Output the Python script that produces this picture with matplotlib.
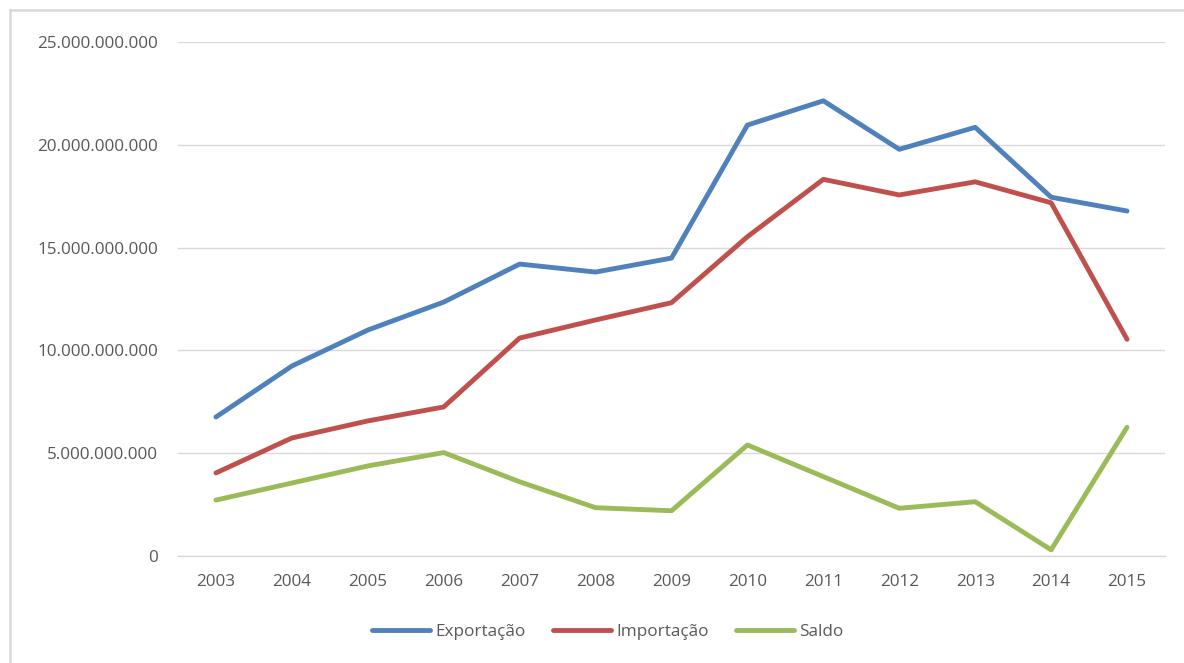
import matplotlib
matplotlib.use("Agg")
import matplotlib.pyplot as plt
from matplotlib.lines import Line2D
from matplotlib.ticker import FuncFormatter

anos = [2003, 2004, 2005, 2006, 2007, 2008, 2009, 2010, 2011, 2012, 2013, 2014, 2015]
exportacao = [6.76e9, 9.24e9, 10.99e9, 12.35e9, 14.20e9, 13.81e9, 14.49e9,
              20.96e9, 22.14e9, 19.78e9, 20.85e9, 17.45e9, 16.78e9]
importacao = [4.04e9, 5.74e9, 6.57e9, 7.25e9, 10.60e9, 11.48e9, 12.32e9,
              15.53e9, 18.32e9, 17.56e9, 18.20e9, 17.18e9, 10.54e9]
saldo = [2.72e9, 3.55e9, 4.38e9, 5.03e9, 3.61e9, 2.35e9, 2.20e9,
         5.40e9, 3.86e9, 2.32e9, 2.64e9, 0.30e9, 6.26e9]
y_ticks = [0, 5e9, 10e9, 15e9, 20e9, 25e9]

series = [("Exportação", exportacao, "#4F81BD"),
          ("Importação", importacao, "#C0504D"),
          ("Saldo", saldo, "#9BBB59")]

plt.rcParams["font.family"] = ["Open Sans", "DejaVu Sans"]
FS = 12.3
W, H = 1184, 663
fig = plt.figure(figsize=(W / 100, H / 100), dpi=100)
ax = fig.add_axes([178 / W, 1 - 556 / H, (1165 - 178) / W, (556 - 42) / H])

for nome, valores, cor in series:
    ax.plot(anos, valores, color=cor, linewidth=3.5, label=nome,
            solid_capstyle="round", solid_joinstyle="round")

ax.set_xlim(2002.5, 2015.5)
ax.set_ylim(0, 25e9)
ax.set_xticks(anos)
ax.set_yticks(y_ticks)


def fmt_pt(v, _pos):
    return f"{int(round(v)):,}".replace(",", ".")


ax.yaxis.set_major_formatter(FuncFormatter(fmt_pt))
ax.grid(axis="y", color="#D9D9D9", linewidth=1.0)
ax.set_axisbelow(True)
for lado in ("top", "right", "left"):
    ax.spines[lado].set_visible(False)
ax.spines["bottom"].set_color("#D9D9D9")
ax.spines["bottom"].set_linewidth(1.0)
ax.tick_params(axis="both", length=0, labelsize=FS, labelcolor="#595959")
ax.tick_params(axis="y", pad=14.5)
ax.tick_params(axis="x", pad=13)

leg = fig.legend(loc="center", bbox_to_anchor=(608 / W, 1 - 632 / H), ncol=3,
                 frameon=False, fontsize=FS, handlelength=3.4, handletextpad=0.3,
                 columnspacing=1.6)
for t in leg.get_texts():
    t.set_color("#595959")

# moldura cinza do gráfico (topo e esquerda)
fig.add_artist(Line2D([10 / W, 1], [1 - 10 / H, 1 - 10 / H], color="#D9D9D9",
                      linewidth=1.8, transform=fig.transFigure))
fig.add_artist(Line2D([10 / W, 10 / W], [0, 1 - 10 / H], color="#D9D9D9",
                      linewidth=1.8, transform=fig.transFigure))

fig.savefig("out.png", dpi=100)
